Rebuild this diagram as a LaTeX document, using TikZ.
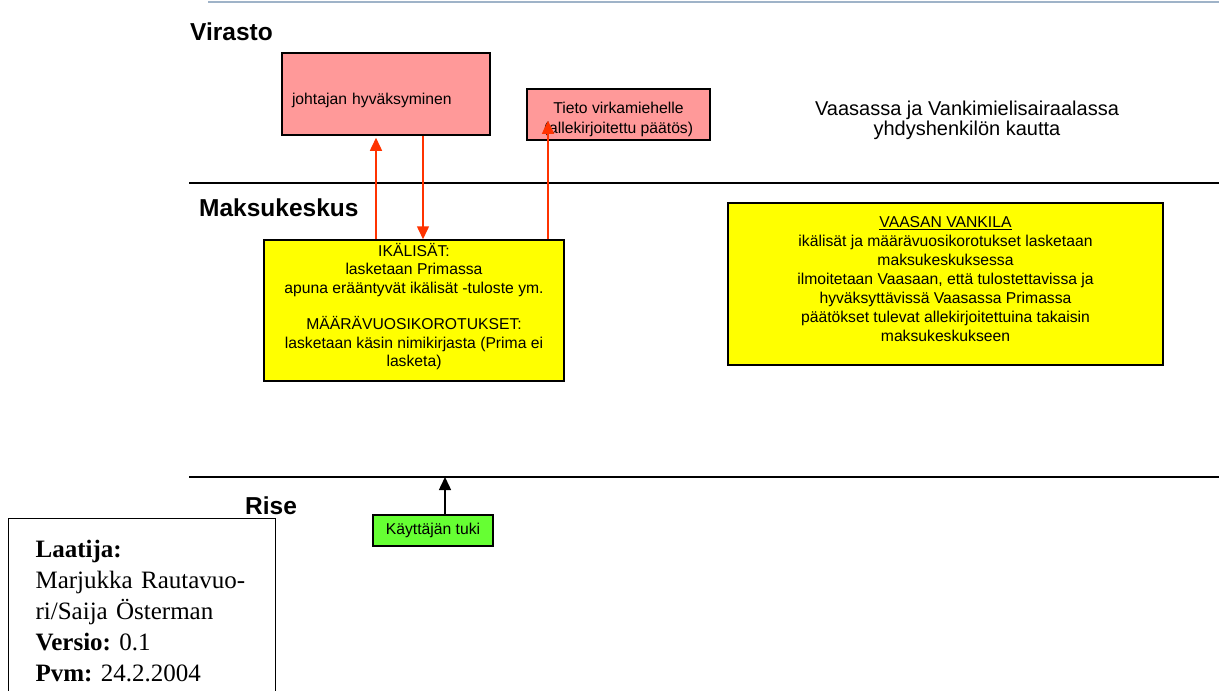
\documentclass[tikz,border=0pt]{standalone}
\usepackage{fontspec}
\setmainfont{Liberation Sans}
\newfontfamily\serifbox{Liberation Serif}
\usepackage{tikz}
\usepackage{xcolor}
\usetikzlibrary{positioning}
\usetikzlibrary{arrows.meta}
\definecolor{boxpink}{RGB}{255,153,153}
\definecolor{boxyellow}{RGB}{255,255,0}
\definecolor{boxgreen}{RGB}{102,255,51}
\definecolor{arrowred}{RGB}{255,51,0}
\definecolor{topline}{RGB}{159,179,200}
\tikzset{pink box/.style={draw,fill=boxpink,line width=1.5pt,font=\fontsize{15.7}{20}\selectfont},
 yellow box/.style={draw,fill=boxyellow,line width=1.5pt,align=center,inner sep=0pt,font=\fontsize{15.7}{18.3}\selectfont},
 lane label/.style={anchor=base west,inner sep=0pt,font=\bfseries\fontsize{24.5}{28}\selectfont},
 lane line/.style={line width=1.8pt},
 red arrow/.style={-{Triangle[length=13pt,width=12pt]},draw=arrowred,fill=arrowred,line width=1.5pt},}

\begin{document}
\begin{tikzpicture}[x=1pt,y=-1pt]
\useasboundingbox (0,0) rectangle (1219,691);

 \coordinate (t1) at (208,2);   \coordinate (t2) at (1219,2);
 \coordinate (l1a) at (189,183); \coordinate (l1b) at (1219,183);
 \coordinate (l2a) at (189,477); \coordinate (l2b) at (1219,477);
 \draw[draw=topline,line width=1.5pt] (t1) -- (t2);
 \draw[lane line] (l1a) -- (l1b);
 \draw[lane line] (l2a) -- (l2b);

 \node[lane label] (virasto) at (190,40) {Virasto};
 \node[lane label] (maksu) at (199,216) {Maksukeskus};
 \node[lane label] (rise) at (245,514) {Rise};

 \node[pink box,minimum width=208pt,minimum height=82pt,text width=188pt,text height=23.5pt,inner xsep=10pt,align=left] (johtaja) at (386,94) {johtajan hyväksyminen};
 \node[pink box,minimum width=183pt,minimum height=51pt,text height=41.5pt,inner sep=0pt,align=center] (tieto) at (618.5,114.5) {Tieto virkamiehelle\\(allekirjoitettu päätös)};
 \node[align=center,font=\fontsize{20}{20.5}\selectfont] (yhdys) at (967,120.5) {Vaasassa ja Vankimielisairaalassa\\yhdyshenkilön kautta};

 \node[yellow box,minimum width=300pt,minimum height=141pt,text depth=11pt] (ika) at (414,310.5) {IKÄLISÄT:\\lasketaan Primassa\\apuna erääntyvät ikälisät -tuloste ym.\\~\\MÄÄRÄVUOSIKOROTUKSET:\\lasketaan käsin nimikirjasta (Prima ei\\lasketa)};
 \node[yellow box,minimum width=435pt,minimum height=162pt,text depth=10pt,font=\fontsize{15.7}{19}\selectfont] (vankila) at (945.5,284) {\underline{VAASAN VANKILA}\\ikälisät ja määrävuosikorotukset lasketaan\\maksukeskuksessa\\ilmoitetaan Vaasaan, että tulostettavissa ja\\hyväksyttävissä Vaasassa Primassa\\päätökset tulevat allekirjoitettuina takaisin\\maksukeskukseen};

 \node[draw,fill=boxgreen,line width=1.5pt,minimum width=120pt,minimum height=31pt,inner sep=0pt,font=\fontsize{15.7}{19}\selectfont] (tuki) at (433,530.5) {Käyttäjän tuki};

 \draw[red arrow] ([xshift=-38pt]ika.north) -- ([xshift=-10pt,yshift=-2pt]johtaja.south);
 \draw[red arrow] ([xshift=37pt]johtaja.south) -- ([xshift=9pt]ika.north);
 \draw[red arrow] ([xshift=134pt]ika.north) -- ([xshift=-70.5pt,yshift=20pt]tieto.south);

 \coordinate (tukitop) at ([xshift=12pt]tuki.north);
 \draw[-{Triangle[length=13pt,width=12pt]},line width=1.5pt] (tukitop) -- (tukitop |- l2a);

 \node[draw,line width=1.2pt,anchor=north west,text width=213pt,inner xsep=27pt,inner ysep=22pt,align=left,font=\serifbox\fontsize{25}{31}\selectfont] (laatija) at (8,518) {\textbf{Laatija:}\\Marjukka Rautavuo-\\ri/Saija Österman\\\textbf{Versio:}\ 0.1\\\textbf{Pvm:}\ 24.2.2004};
\end{tikzpicture}
\end{document}
